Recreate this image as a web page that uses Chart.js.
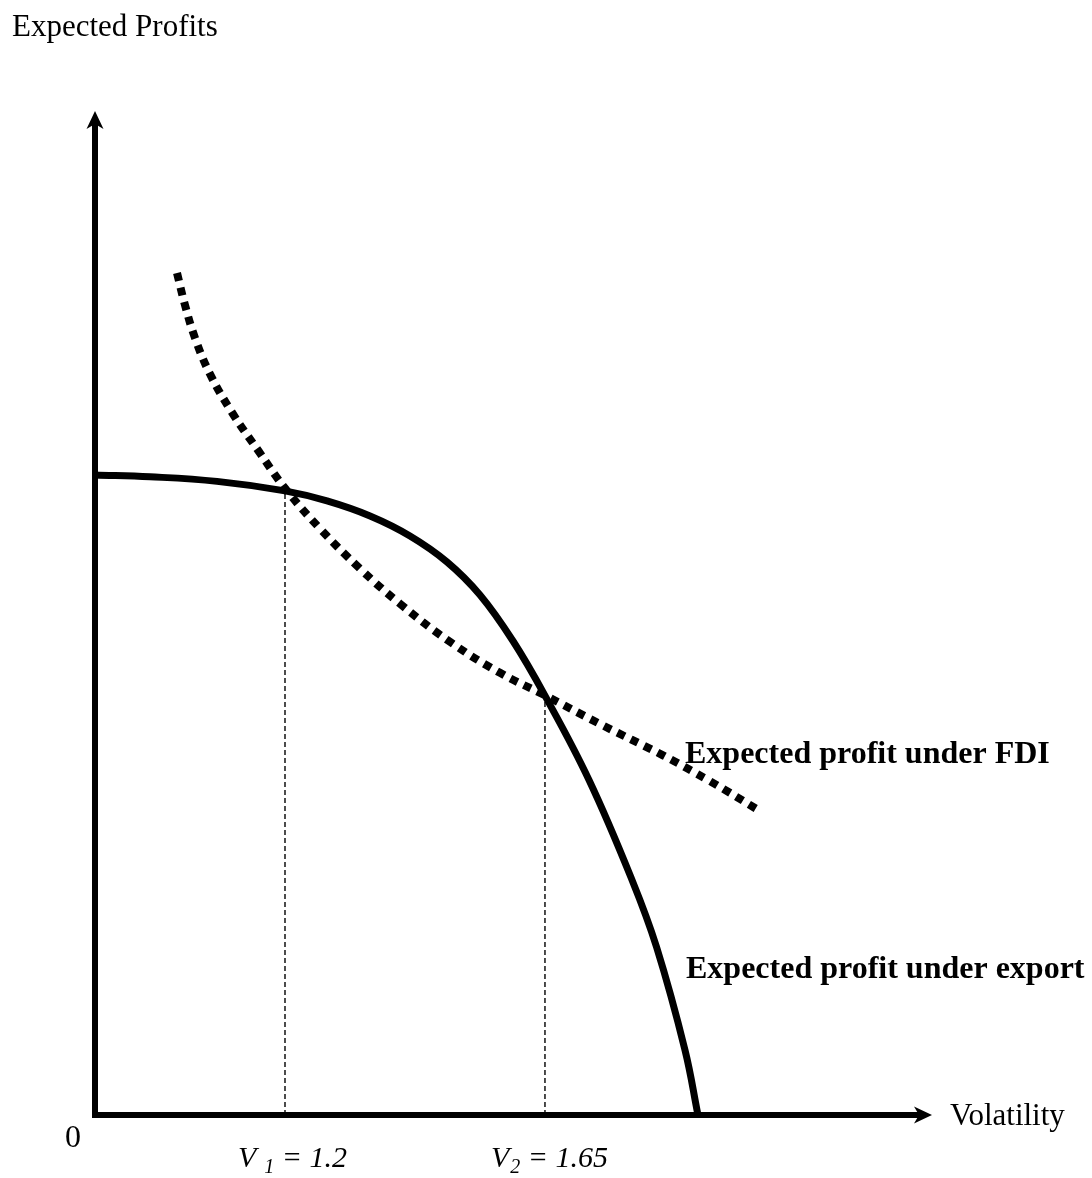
<!DOCTYPE html>
<html>
<head>
<meta charset="utf-8">
<script src="https://cdn.jsdelivr.net/npm/chart.js@4.4.1/dist/chart.umd.min.js"></script>
<style>
  html, body { margin: 0; padding: 0; background: #ffffff; }
  #wrap { width: 1092px; height: 1178px; }
</style>
</head>
<body>
<div id="wrap"><canvas id="c" width="1092" height="1178"></canvas></div>
<script>
// ---- data (arbitrary diagram units, x: volatility, y: expected profits) ----
const exportX = [0, 6.57, 14.58, 22.70, 27.72, 32.86, 37.63, 42.06, 46.00, 49.94, 53.76, 59.02, 64.16, 67.09, 70.49, 72.04];
const exportY = [63.75, 63.57, 63.11, 62.16, 61.16, 59.66, 57.67, 55.08, 51.79, 47.21, 41.77, 33.37, 23.41, 16.73, 6.47, 0];

const fdiX = [9.80, 10.75, 11.95, 13.74, 16.37, 19.59, 22.82, 26.88, 31.66, 36.44, 42.41, 48.39, 53.76, 60.33, 67.86, 73.48, 79.3];
const fdiY = [83.86, 80.68, 77.39, 73.80, 69.97, 66.07, 62.30, 58.41, 54.42, 50.92, 47.13, 44.04, 41.80, 38.95, 35.82, 33.25, 30.35];

// crossing points
const crossX = [22.7, 53.76];
const crossY = [62.2, 41.8];
const crossLabels = [["V", "1", " = 1.2", true], ["V", "2", " = 1.65", false]];

const axisTitleY = "Expected Profits";
const axisTitleX = "Volatility";
const originLabel = "0";
const fdiLabel = "Expected profit under FDI";
const exportLabel = "Expected profit under export";

const toPts = (xs, ys) => xs.map((x, i) => ({ x: x, y: ys[i] }));

const SERIF = '"Liberation Serif", "Times New Roman", "DejaVu Serif", serif';

const decorPlugin = {
  id: 'decor',
  beforeDatasetsDraw(chart) {
    const ctx = chart.ctx;
    const xs = chart.scales.x, ys = chart.scales.y;
    const x0 = xs.getPixelForValue(0), y0 = ys.getPixelForValue(0);
    const xEnd = xs.getPixelForValue(xs.max), yEnd = ys.getPixelForValue(ys.max);
    ctx.save();
    ctx.strokeStyle = '#000';
    ctx.fillStyle = '#000';
    ctx.lineCap = 'butt';
    ctx.lineWidth = 6;
    ctx.beginPath();
    ctx.moveTo(x0, y0 + 3);
    ctx.lineTo(x0, yEnd + 12);
    ctx.stroke();
    ctx.beginPath();
    ctx.moveTo(x0 - 3, y0);
    ctx.lineTo(xEnd - 12, y0);
    ctx.stroke();
    ctx.beginPath();
    ctx.moveTo(x0, yEnd);
    ctx.lineTo(x0 - 8.5, yEnd + 18);
    ctx.lineTo(x0, yEnd + 13);
    ctx.lineTo(x0 + 8.5, yEnd + 18);
    ctx.closePath();
    ctx.fill();
    ctx.beginPath();
    ctx.moveTo(xEnd, y0);
    ctx.lineTo(xEnd - 18, y0 - 8.5);
    ctx.lineTo(xEnd - 13, y0);
    ctx.lineTo(xEnd - 18, y0 + 8.5);
    ctx.closePath();
    ctx.fill();
    ctx.restore();
  },
  afterDraw(chart) {
    const ctx = chart.ctx;
    const xs = chart.scales.x, ys = chart.scales.y;
    const x0 = xs.getPixelForValue(0), y0 = ys.getPixelForValue(0);
    const xEnd = xs.getPixelForValue(xs.max);
    ctx.save();
    ctx.fillStyle = '#000';
    ctx.textBaseline = 'alphabetic';
    ctx.textAlign = 'left';
    ctx.font = '31px ' + SERIF;
    ctx.fillText(axisTitleY, 12, 36);
    ctx.fillText(axisTitleX, xEnd + 18, y0 + 10);
    ctx.font = '32px ' + SERIF;
    ctx.fillText(originLabel, x0 - 30, y0 + 32);
    ctx.font = 'bold 32px ' + SERIF;
    ctx.fillText(fdiLabel, 685, 763);
    ctx.fillText(exportLabel, 686, 978);
    crossLabels.forEach((lab, i) => {
      const cx = xs.getPixelForValue(crossX[i]);
      let x = cx - (i === 0 ? 47 : 54);
      const base = y0 + 52;
      ctx.font = 'italic 30px ' + SERIF;
      ctx.fillText(lab[0], x, base);
      x += ctx.measureText(lab[0]).width + (lab[3] ? 8 : 1);
      ctx.font = 'italic 20px ' + SERIF;
      ctx.fillText(lab[1], x, base + 6);
      x += ctx.measureText(lab[1]).width;
      ctx.font = 'italic 30px ' + SERIF;
      ctx.fillText(lab[2], x, base);
    });
    ctx.restore();
  }
};

new Chart(document.getElementById('c'), {
  type: 'scatter',
  data: {
    datasets: [
      {
        data: toPts([crossX[0], crossX[0]], [0, crossY[0]]),
        showLine: true, borderColor: '#000', borderWidth: 1.4, borderDash: [5, 3],
        pointRadius: 0, tension: 0
      },
      {
        data: toPts([crossX[1], crossX[1]], [0, crossY[1]]),
        showLine: true, borderColor: '#000', borderWidth: 1.4, borderDash: [5, 3],
        pointRadius: 0, tension: 0
      },
      {
        data: toPts(exportX, exportY),
        showLine: true, borderColor: '#000', borderWidth: 7,
        pointRadius: 0, tension: 0.4, borderCapStyle: 'butt'
      },
      {
        data: toPts(fdiX, fdiY),
        showLine: true, borderColor: '#000', borderWidth: 8, borderDash: [8, 7],
        pointRadius: 0, tension: 0.4, borderCapStyle: 'butt'
      }
    ]
  },
  options: {
    responsive: false,
    animation: false,
    layout: { padding: { left: 95, right: 160, top: 111, bottom: 63 } },
    plugins: { legend: { display: false }, tooltip: { enabled: false } },
    scales: {
      x: { type: 'linear', min: 0, max: 100, display: false },
      y: { type: 'linear', min: 0, max: 100, display: false }
    }
  },
  plugins: [decorPlugin]
});
</script>
</body>
</html>
